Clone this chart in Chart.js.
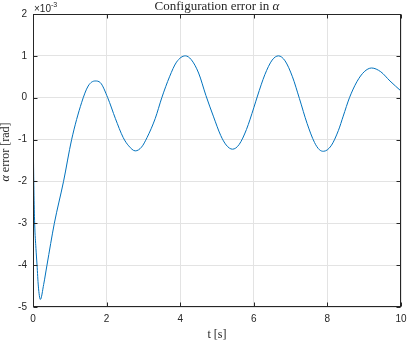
<!DOCTYPE html>
<html>
<head>
<meta charset="utf-8">
<script src="https://cdn.jsdelivr.net/npm/chart.js@4"></script>
<style>
  html, body { margin: 0; padding: 0; background: #fff; }
  #wrap { width: 407px; height: 341px; }
</style>
</head>
<body>
<div id="wrap"><canvas id="chart"></canvas></div>
<script>
// time [s]
const timeS = [0, 0.01, 0.025, 0.045, 0.08, 0.11, 0.145, 0.2, 0.29, 0.38, 0.58, 0.83, 1.05, 1.32, 1.5, 1.69,
  1.83, 2.03, 2.24, 2.45, 2.6, 2.78, 2.95, 3.1, 3.32, 3.5, 3.71, 3.9, 4.14,
  4.3, 4.5, 4.7, 4.9, 5.1, 5.25, 5.42, 5.6, 5.8, 6.0, 6.1, 6.3, 6.5, 6.67,
  6.85, 7.05, 7.24, 7.45, 7.65, 7.78, 7.89, 8.1, 8.3, 8.43, 8.6, 8.8, 9.0, 9.2, 9.45, 9.7, 10];
// alpha error, x 1e-3 rad
const alphaErr = [0, -1.2, -2.2, -3.0, -3.6, -4.0, -4.5, -4.82, -4.46, -4.0, -3.0, -2.0, -1.0, -0.12, 0.28, 0.40,
  0.36, 0.0, -0.5, -0.95, -1.15, -1.27, -1.18, -0.95, -0.5, 0.0, 0.5, 0.85, 1.0,
  0.91, 0.59, 0.05, -0.44, -0.9, -1.13, -1.23, -1.12, -0.76, -0.24, 0.04, 0.55, 0.9, 1.0,
  0.88, 0.5, -0.02, -0.62, -1.07, -1.24, -1.28, -1.15, -0.78, -0.44, 0.0, 0.38, 0.62, 0.71, 0.62, 0.40, 0.16];

const xTicks = [0, 2, 4, 6, 8, 10];
const yTicks = [-5, -4, -3, -2, -1, 0, 1, 2];

const AXIS = '#262626';
const GRID = '#e3e3e3';
const SERIF = '"Liberation Serif", "DejaVu Serif", serif';
const SANS = '"Liberation Sans", Arial, sans-serif';

// draw mixed-font text centred on x
function drawParts(ctx, parts, x, y) {
  let w = 0;
  parts.forEach(p => { ctx.font = p.font; w += ctx.measureText(p.text).width; });
  let cx = x - w / 2;
  parts.forEach(p => {
    ctx.font = p.font;
    ctx.fillText(p.text, cx, y);
    cx += ctx.measureText(p.text).width;
  });
}

const matlabBox = {
  id: 'matlabBox',
  afterDraw(chart) {
    const {ctx, chartArea: a, scales: {x, y}} = chart;
    const L = Math.round(a.left) + 0.5, R = Math.round(a.right) - 0.5;
    const T = Math.round(a.top) + 0.5, B = Math.round(a.bottom) - 0.5;
    ctx.save();
    ctx.strokeStyle = AXIS;
    ctx.lineWidth = 1;
    ctx.strokeRect(L, T, R - L, B - T);
    // inward ticks on all four sides
    ctx.beginPath();
    xTicks.forEach(v => {
      const px = Math.round(x.getPixelForValue(v)) + 0.5;
      ctx.moveTo(px, B); ctx.lineTo(px, B - 4);
      ctx.moveTo(px, T); ctx.lineTo(px, T + 4);
    });
    yTicks.forEach(v => {
      const py = Math.round(y.getPixelForValue(v)) + 0.5;
      ctx.moveTo(L, py); ctx.lineTo(L + 4, py);
      ctx.moveTo(R, py); ctx.lineTo(R - 4, py);
    });
    ctx.stroke();

    ctx.fillStyle = AXIS;
    ctx.textBaseline = 'alphabetic';
    ctx.textAlign = 'left';
    // title
    drawParts(ctx, [
      {text: 'Configuration error in ', font: `13px ${SERIF}`},
      {text: 'α', font: `italic 13px ${SERIF}`}
    ], (L + R) / 2, 10);
    // x label
    drawParts(ctx, [{text: 't [s]', font: `12px ${SERIF}`}], (L + R) / 2, 338);
    // y label
    ctx.save();
    ctx.translate(9, 152);
    ctx.rotate(-Math.PI / 2);
    drawParts(ctx, [
      {text: 'α', font: `italic 12px ${SERIF}`},
      {text: ' error [rad]', font: `12px ${SERIF}`}
    ], 0, 0);
    ctx.restore();
    // exponent
    ctx.font = `10px ${SANS}`;
    ctx.fillText('×10', 34, 12);
    const w = ctx.measureText('×10').width;
    ctx.font = `7px ${SANS}`;
    ctx.fillText('-3', 34 + w, 7);
    ctx.restore();
  }
};

new Chart(document.getElementById('chart'), {
  type: 'line',
  data: {
    datasets: [{
      data: timeS.map((t, i) => ({x: t, y: alphaErr[i]})),
      borderColor: '#0072BD',
      borderWidth: 1,
      pointRadius: 0,
      fill: false,
      cubicInterpolationMode: 'monotone'
    }]
  },
  options: {
    responsive: true,
    maintainAspectRatio: false,
    animation: false,
    layout: {padding: {top: 14, right: 0, left: 0, bottom: 0}},
    plugins: {legend: {display: false}, tooltip: {enabled: false}, title: {display: false}},
    scales: {
      x: {
        type: 'linear',
        min: 0, max: 10,
        afterBuildTicks: s => { s.ticks = xTicks.map(v => ({value: v})); },
        afterFit: s => { s.height = 34; s.paddingRight = 6; },
        grid: {color: GRID, drawTicks: false},
        border: {display: false},
        ticks: {color: AXIS, font: {family: SANS, size: 10}, padding: 6, maxRotation: 0}
      },
      y: {
        min: -5, max: 2,
        afterBuildTicks: s => { s.ticks = yTicks.map(v => ({value: v})); },
        afterFit: s => { s.width = 33; },
        grid: {color: GRID, drawTicks: false},
        border: {display: false},
        ticks: {color: AXIS, font: {family: SANS, size: 10}, padding: 6}
      }
    }
  },
  plugins: [matlabBox]
});
</script>
</body>
</html>
